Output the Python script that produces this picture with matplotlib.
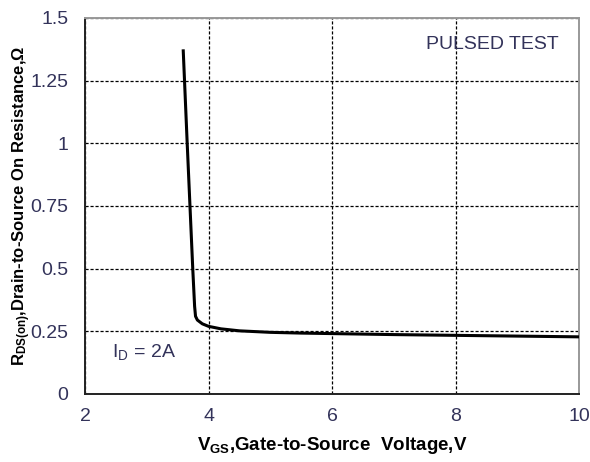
import matplotlib
matplotlib.use("Agg")
import matplotlib.pyplot as plt

plt.rcParams['font.family'] = ['Liberation Sans', 'DejaVu Sans']
plt.rcParams['mathtext.fontset'] = 'custom'
plt.rcParams['mathtext.rm'] = 'Liberation Sans:bold'
plt.rcParams['mathtext.default'] = 'rm'

# Gate voltage (V) and on-resistance (ohm)
vgs = [3.59, 3.655, 3.70, 3.745, 3.775, 3.79, 3.82, 3.90, 4.0, 4.2, 4.5,
       5.0, 5.5, 6.0, 7.0, 8.0, 9.0, 10.0]
rds = [1.375, 1.00, 0.75, 0.50, 0.35, 0.31, 0.295, 0.28, 0.270, 0.260, 0.252,
       0.246, 0.243, 0.241, 0.237, 0.234, 0.231, 0.228]

xticks = [2, 4, 6, 8, 10]
yticks = [0, 0.25, 0.5, 0.75, 1, 1.25, 1.5]
yticklabels = ['0', '0.25', '0.5', '0.75', '1', '1.25', '1.5']

tick_color = '#33335a'

fig = plt.figure(figsize=(5.9, 4.62), dpi=100)
ax = fig.add_axes([85 / 590, 1 - 394 / 462, (579 - 85) / 590, (394 - 18) / 462])

ax.plot(vgs, rds, color='black', lw=2.2, solid_capstyle='butt',
        solid_joinstyle='round', zorder=3)

ax.set_xlim(2, 10)
ax.set_ylim(0, 1.5)
ax.set_xticks(xticks)
ax.set_yticks(yticks)
ax.set_yticklabels(yticklabels)
ax.tick_params(length=0, labelsize=14, colors=tick_color)
ax.tick_params(axis='y', pad=12)
ax.tick_params(axis='x', pad=10)

ax.grid(True, color='black', linestyle=(0, (2.5, 1.5)), lw=0.9)

for side in ('left', 'bottom'):
    ax.spines[side].set_color('#222222')
    ax.spines[side].set_linewidth(1.4)
for side in ('top', 'right'):
    ax.spines[side].set_color('#999999')
    ax.spines[side].set_linewidth(1.4)

ax.set_xlabel(r'V$_{\mathregular{GS}}$,Gate-to-Source  Voltage,V',
              fontsize=13.5, fontweight='bold', labelpad=7)
ax.set_ylabel(r'R$_{\mathregular{DS(on)}}$,Drain-to-Source On Resistance,Ω',
              fontsize=12, fontweight='bold', labelpad=-2)

ax.text(0.69, 0.93, 'PULSED TEST', transform=ax.transAxes, fontsize=14,
        color=tick_color, ha='left', va='center')
ax.text(0.055, 0.11, r'I$_{\mathregular{D}}$ = 2A', transform=ax.transAxes,
        fontsize=14, color=tick_color, ha='left', va='center',
        math_fontfamily='dejavusans')

fig.savefig('out.png', dpi=100)
